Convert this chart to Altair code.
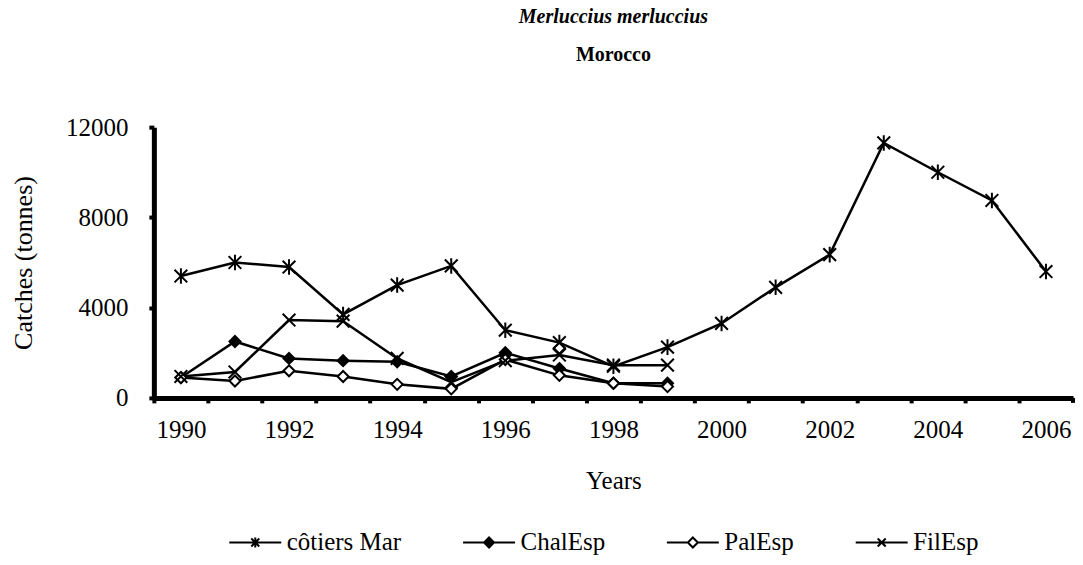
import altair as alt
import pandas as pd

# ---- data ----
years = list(range(1990, 2007))
years_esp = list(range(1990, 2000))
series_names = ["côtiers Mar", "ChalEsp", "PalEsp", "FilEsp"]
cotiers_mar = [5400, 6000, 5800, 3700, 5000, 5850, 3000, 2450, 1400, 2250,
               3300, 4900, 6350, 11300, 10000, 8750, 5600]
chal_esp = [900, 2500, 1750, 1650, 1600, 950, 2000, 1300, 650, 650]
pal_esp = [900, 750, 1200, 950, 600, 400, 1700, 1000, 650, 500]
fil_esp = [950, 1150, 3450, 3400, 1750, 700, 1650, 1900, 1450, 1450]
extra_year = [1997]
extra_value = [2200]

x_tick_values = years          # one tick per year (drawn on the category boundary)
y_tick_values = [0, 4000, 8000, 12000]

rows = []
for name, xs_, vs_ in [
    ("côtiers Mar", years, cotiers_mar),
    ("ChalEsp", years_esp, chal_esp),
    ("PalEsp", years_esp, pal_esp),
    ("FilEsp", years_esp, fil_esp),
]:
    for yr, v in zip(xs_, vs_):
        rows.append({"series": name, "year": yr, "value": v})
df = pd.DataFrame(rows)
df_extra = pd.DataFrame({"series": ["PalEsp"] * len(extra_year), "year": extra_year, "value": extra_value})

# ---- marker styles ----
AST = "M-0.9,-0.9L0.9,0.9M-0.9,0.9L0.9,-0.9M0,-1.1L0,1.1"
DIA = "M0,-0.78L0.78,0L0,0.78L-0.78,0Z"
XMK = "M-0.9,-0.9L0.9,0.9M-0.9,0.9L0.9,-0.9"
plot_shapes = [AST, DIA, DIA, XMK]
fills = ["black", "black", "white", "black"]

L = "M-5.2,0L5.2,0"
legend_shapes = [
    L + "M-0.8,-0.8L0.8,0.8M-0.8,0.8L0.8,-0.8M0,-1L0,1",
    L + "M0,-1L1,0L0,1L-1,0ZM0,-0.6L0.6,0L0,0.6L-0.6,0ZM0,-0.25L0.25,0L0,0.25L-0.25,0Z",
    "M-5.2,0L-1,0M1,0L5.2,0M0,-1L1,0L0,1L-1,0Z",
    L + "M-0.8,-0.8L0.8,0.8M-0.8,0.8L0.8,-0.8",
]

FONT = "Liberation Serif"
W, H = 920, 271
HALF = W / 17 / 2

xs = alt.Scale(domain=[1989.5, 2006.5], nice=False, zero=False)
ys = alt.Scale(domain=[0, 12000], nice=False)

y_axis = alt.Axis(values=y_tick_values, grid=False, title="Catches (tonnes)", format="d",
                  labelFontSize=25, titleFontSize=26, titleFontWeight="normal",
                  labelFont=FONT, titleFont=FONT, labelColor="black", titleColor="black",
                  domainColor="black", domainWidth=5, tickColor="black", tickWidth=4,
                  tickSize=5, labelPadding=21, titlePadding=29, labelFlush=False)
x_axis = alt.Axis(values=x_tick_values, grid=False, title="Years",
                  labelExpr="datum.value % 2 == 0 ? format(datum.value, 'd') : ''",
                  tickOffset=-HALF, labelOffset=HALF, labelFlush=False, labelOverlap=False,
                  labelFontSize=25, titleFontSize=25, titleFontWeight="normal",
                  labelFont=FONT, titleFont=FONT, labelColor="black", titleColor="black",
                  domainColor="black", domainWidth=5, tickColor="black", tickWidth=4,
                  tickSize=5, labelPadding=15, titlePadding=26)
x_enc = alt.X("year:Q", scale=xs, axis=x_axis)
y_enc = alt.Y("value:Q", scale=ys, axis=y_axis)

lines = alt.Chart(df).mark_line(color="black", strokeWidth=2.5).encode(
    x=x_enc, y=y_enc, detail="series:N", order="year:Q",
)

points = alt.Chart(df).mark_point(stroke="black", strokeWidth=2, opacity=1, size=200).encode(
    x=x_enc, y=y_enc,
    shape=alt.Shape("series:N", scale=alt.Scale(domain=series_names, range=plot_shapes), legend=None),
    fill=alt.Fill("series:N", scale=alt.Scale(domain=series_names, range=fills), legend=None),
)

extra = alt.Chart(df_extra).mark_point(stroke="black", strokeWidth=2, opacity=1, size=200,
                                       shape=DIA, fill="white").encode(x=x_enc, y=y_enc)

# closing tick at the right end of the category axis
end_tick = alt.Chart(df_extra).mark_rule(color="black", strokeWidth=4).encode(
    x=alt.value(W), y=alt.value(H), y2=alt.value(H + 5)
)

leg = alt.Legend(orient="none", legendX=89, legendY=403, direction="horizontal", columns=4,
                 title=None, labelFont=FONT, labelFontSize=25, labelColor="black",
                 symbolSize=100, symbolStrokeWidth=2, symbolStrokeColor="black",
                 symbolFillColor="white", symbolOpacity=1,
                 labelOffset=19, columnPadding=57, padding=0)

legend_layer = alt.Chart(df).transform_filter("false").mark_point(
    stroke="black", strokeWidth=2, opacity=1, size=100, filled=False).encode(
    x=x_enc, y=y_enc,
    shape=alt.Shape("series:N", scale=alt.Scale(domain=series_names, range=legend_shapes), legend=leg),
)

chart = alt.layer(lines, points, extra, end_tick, legend_layer).resolve_scale(
    shape="independent", fill="independent"
).properties(
    width=W, height=H,
    padding={"left": 2, "top": -1, "right": 0, "bottom": 0},
    title=alt.TitleParams(text="Merluccius merluccius", subtitle="Morocco",
                          font=FONT, subtitleFont=FONT, fontSize=20, subtitleFontSize=20,
                          fontWeight="bold", fontStyle="italic",
                          subtitleFontWeight="bold", subtitleFontStyle="normal",
                          color="black", subtitleColor="black", anchor="middle",
                          frame="group", offset=50, subtitlePadding=18),
).configure(font=FONT, view=alt.ViewConfig(stroke=None))

chart.save("out.html", embed_options={"renderer": "svg", "actions": False})
